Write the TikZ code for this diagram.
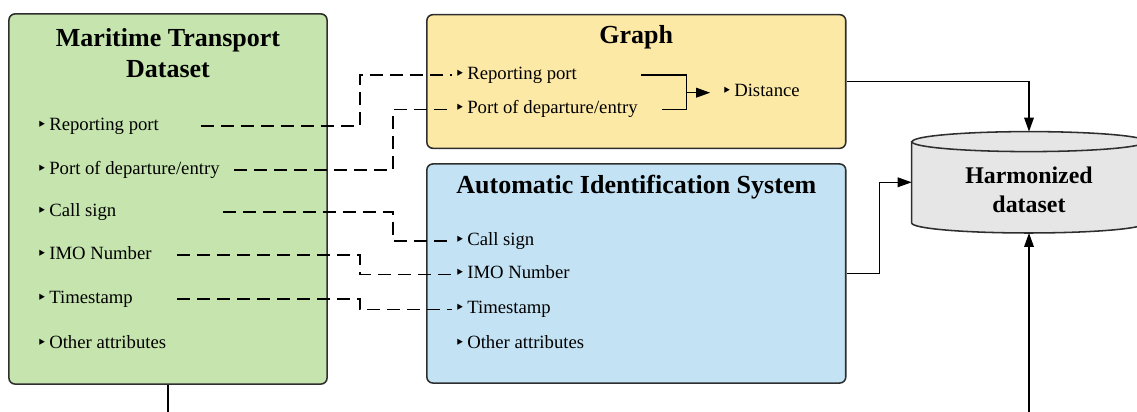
\documentclass[tikz,border=0pt]{standalone}
\usepackage{fontspec}
\setmainfont{Liberation Serif}
\newfontfamily\bulletfont{DejaVu Sans}
\usetikzlibrary{arrows.meta, math}

\definecolor{mtgreen}{HTML}{C6E5AE}
\definecolor{graphyellow}{HTML}{FDE9A6}
\definecolor{aisblue}{HTML}{C3E3F5}
\definecolor{cylgray}{HTML}{E6E6E6}
\definecolor{edge}{HTML}{2E2E2E}

\newcommand{\itembullet}{\makebox[0.275cm][l]{\hspace{-1pt}\bulletfont\fontsize{12}{12}\selectfont ‣}}

\tikzset{
box/.style={draw=edge, line width=1.1pt, rounded corners=0.15cm, inner sep=0pt},
title/.style={font=\fontsize{18.5}{22}\selectfont\bfseries, align=center},
item/.style={anchor=west, inner xsep=0.1cm, inner ysep=0pt, text height=9pt, text depth=3pt, font=\fontsize{13.3}{16}\selectfont},
line/.style={line width=1.1pt},
link/.style={line, dash pattern=on 0.33cm off 0.17cm},
flow/.style={line, -{Triangle[length=0.35cm, width=0.24cm]}},
}

\begin{document}
\begin{tikzpicture}[x=0.025cm, y=0.025cm]
    \tikzmath{ \cylrx = 117; \cylry = 10; };  % radii of the cylinder ends
    \clip (0,0) rectangle (1137,412);

    %boxes
    \node[box, fill=mtgreen, minimum width=7.95cm, minimum height=9.25cm]    (mt) at (168,213) { };
    \node[box, fill=graphyellow, minimum width=10.47cm, minimum height=3.34cm] (graph) at (636.3,330.5) { };
    \node[box, fill=aisblue, minimum width=10.47cm, minimum height=5.475cm]   (ais) at (636.3,138.5) { };
    \node[inner sep=0pt, minimum width=5.85cm, minimum height=2.52cm]       (harm) at (1029,229.7) { };

    %cylinder
    \filldraw[line, draw=edge, fill=cylgray] ([yshift=-0.25cm]harm.north west) -- ([yshift=0.25cm]harm.south west)
        arc[start angle=180, end angle=360, x radius=\cylrx, y radius=\cylry]
        -- ([yshift=-0.25cm]harm.north east)
        arc[start angle=0, end angle=180, x radius=\cylrx, y radius=\cylry] -- cycle;
    \draw[line, draw=edge] ([yshift=-0.25cm]harm.north west) arc[start angle=180, end angle=360, x radius=\cylrx, y radius=\cylry];

    %titles
    \node[title] (mtTitle) at (168,358.5) {Maritime Transport\\Dataset};
    \node[title] (graphTitle) at (636.3,374.7) {Graph};
    \node[title] (aisTitle) at (636.3,225.3) {Automatic Identification System};
    \node[title, font=\fontsize{17}{20.6}\selectfont\bfseries] (harmTitle) at (1029,222.5) {Harmonized\\dataset};

    %items in the maritime transport dataset
    \node[item]   (mtRep) at (34,286) {\itembullet Reporting port};
    \node[item]  (mtPort) at (34,242) {\itembullet Port of departure/entry};
    \node[item]  (mtCall) at (34,200) {\itembullet Call sign};
    \node[item]   (mtIMO) at (34,157) {\itembullet IMO Number};
    \node[item]  (mtTime) at (34,113) {\itembullet Timestamp};
    \node[item] (mtOther) at (34,68)  {\itembullet Other attributes};

    %items in the graph
    \node[item]  (gRep) at (452,337)   {\itembullet Reporting port};
    \node[item] (gPort) at (452,302.3) {\itembullet Port of departure/entry};
    \node[item] (gDist) at (719,319.3) {\itembullet Distance};

    %items in the AIS
    \node[item]  (aCall) at (452,171)   {\itembullet Call sign};
    \node[item]   (aIMO) at (452,137.7) {\itembullet IMO Number};
    \node[item]  (aTime) at (452,102.7) {\itembullet Timestamp};
    \node[item] (aOther) at (452,67.3)  {\itembullet Other attributes};

    %dashed links between matching attributes
    \coordinate (laneL) at (360,0);
    \coordinate (laneR) at (393,0);
    \draw[link] ([xshift=0.94cm]mtRep.east)  -| (laneL |- gRep.west)  -- (gRep.west);
    \draw[link] ([xshift=0.25cm]mtPort.east) -| (laneR |- gPort.west) -- (gPort.west);
    \draw[link] ([xshift=2.55cm]mtCall.east) -| (laneR |- aCall.west) -- (aCall.west);
    \draw[link] ([xshift=0.53cm]mtIMO.east)  -| (laneL |- aIMO.west)  -- (aIMO.west);
    \draw[link] ([xshift=1.0cm]mtTime.east)  -| (laneL |- aTime.west)  -- (aTime.west);

    %ports give the distance
    \coordinate (join) at (686.7,319.3);
    \draw[line] ([xshift=1.5cm]gRep.east) -| (join);
    \draw[line] ([xshift=0.5cm]gPort.east) -| (join);
    \draw[flow, shorten >=0.22cm] (join) -- (gDist.west);

    %into the harmonized dataset
    \coordinate (mtOut) at (168,-10);
    \coordinate (harmIn) at (1029,-10);
    \draw[flow] (graph.east) -| (harm.north);
    \draw[flow] (ais.east) -- ++(0.82cm,0) |- (harm.west);
    \draw[line] (mt.south) -- (mtOut);
    \draw[flow] (harmIn) -- (harm.south);

\end{tikzpicture}
\end{document}
